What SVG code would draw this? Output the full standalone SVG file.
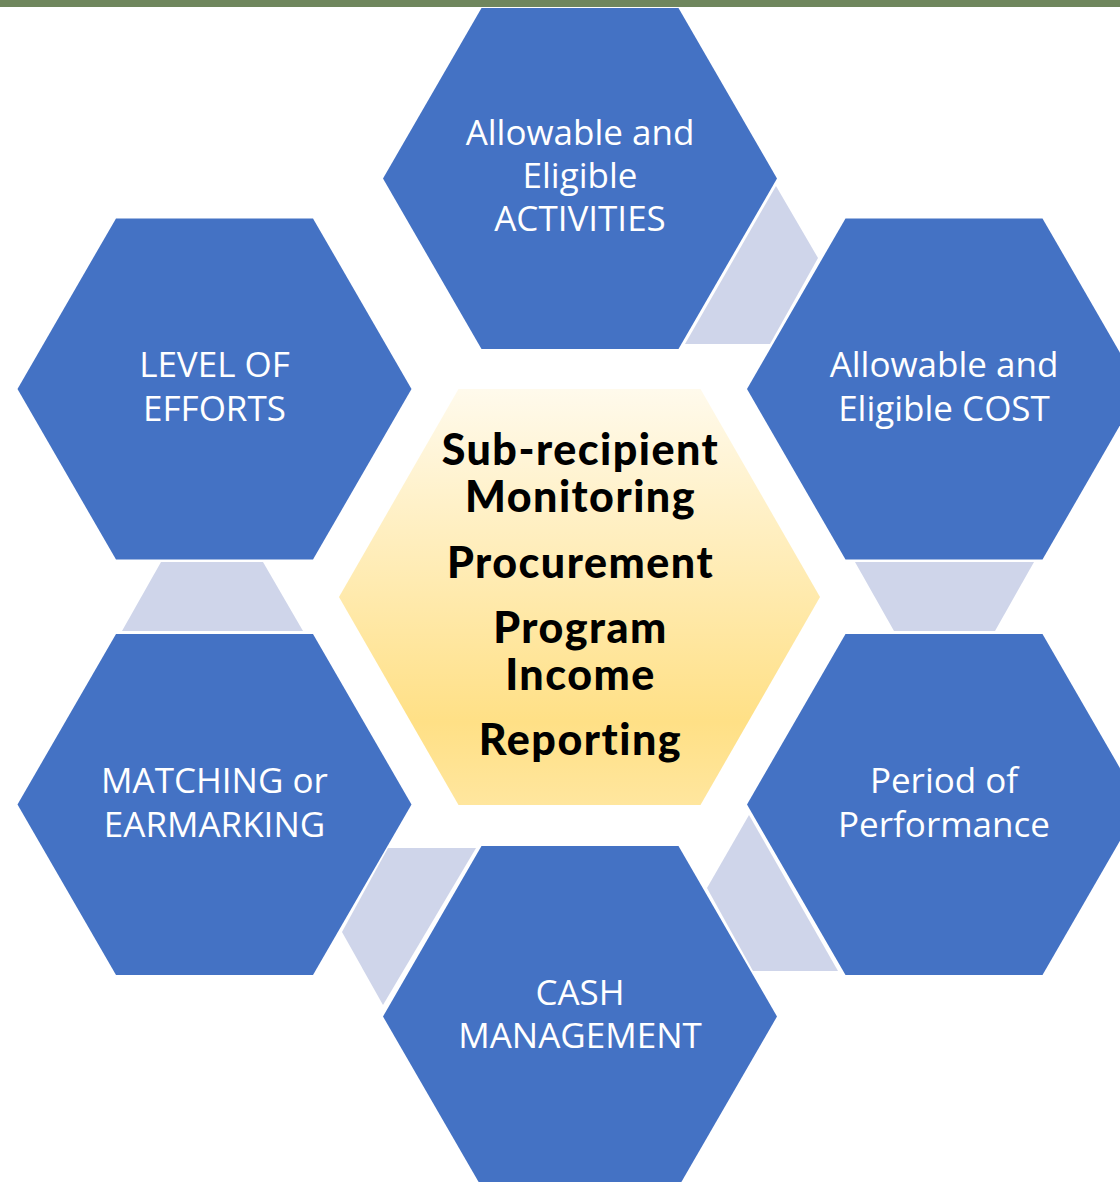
<svg xmlns="http://www.w3.org/2000/svg" width="1120" height="1182" viewBox="0 0 1120 1182">
  <defs>
    <linearGradient id="gold" x1="0" y1="0" x2="0" y2="1">
      <stop offset="0" stop-color="#FFFAEC"/>
      <stop offset="0.8" stop-color="#FFE086"/>
      <stop offset="1" stop-color="#FFE69E"/>
    </linearGradient>
    <style>
      .hex { fill: #4472C4; }
      .con { fill: #CFD5EA; }
      .lbl { fill: #FFFFFF; font-family: "Open Sans", "Liberation Sans", sans-serif; font-size: 35px; text-anchor: middle; }
      .ctr { fill: #000000; font-family: Lato, "Liberation Sans", sans-serif; font-weight: 900; font-size: 43px; letter-spacing: 1.5px; text-anchor: middle; }
    </style>
  </defs>
  <rect x="0" y="0" width="1120" height="1182" fill="#FFFFFF"/>
  <rect x="0" y="0" width="1120" height="7" fill="#6F865D"/>

  <g id="connectors">
    <polygon class="con" points="776,186 818,258 770,344 685,344"/>
    <polygon class="con" points="161,562 263,562 303,631 122,631"/>
    <polygon class="con" points="855,562 1034,562 995,631 894,631"/>
    <polygon class="con" points="388,848 476,848 383,1005 342,932"/>
    <polygon class="con" points="749,815 838,971 753,971 707,888"/>
  </g>

  <g id="node-activities">
    <polygon class="hex" points="481.5,8 678.5,8 777,178.5 678.5,349 481.5,349 383,178.5"/>
    <text class="lbl" x="580" y="145">Allowable and</text>
    <text class="lbl" x="580" y="188">Eligible</text>
    <text class="lbl" x="580" y="231">ACTIVITIES</text>
  </g>

  <g id="node-cost">
    <polygon class="hex" points="845.5,218.4 1042.5,218.4 1141,389 1042.5,559.6 845.5,559.6 747,389"/>
    <text class="lbl" x="944" y="377">Allowable and</text>
    <text class="lbl" x="944" y="421">Eligible COST</text>
  </g>

  <g id="node-effort">
    <polygon class="hex" points="116,218.4 313,218.4 411.5,389 313,559.6 116,559.6 17.5,389"/>
    <text class="lbl" x="214.5" y="377">LEVEL OF</text>
    <text class="lbl" x="214.5" y="421">EFFORTS</text>
  </g>

  <g id="node-matching">
    <polygon class="hex" points="116,634 313,634 411.5,804.5 313,975 116,975 17.5,804.5"/>
    <text class="lbl" x="214.5" y="793">MATCHING or</text>
    <text class="lbl" x="214.5" y="837">EARMARKING</text>
  </g>

  <g id="node-period">
    <polygon class="hex" points="845.5,634 1042.5,634 1141,804.5 1042.5,975 845.5,975 747,804.5"/>
    <text class="lbl" x="944" y="793">Period of</text>
    <text class="lbl" x="944" y="837">Performance</text>
  </g>

  <g id="node-cash">
    <polygon class="hex" points="481.5,846 678.5,846 777,1016.5 678.5,1187 481.5,1187 383,1016.5"/>
    <text class="lbl" x="580" y="1005">CASH</text>
    <text class="lbl" x="580" y="1048">MANAGEMENT</text>
  </g>

  <g id="node-center">
    <polygon fill="url(#gold)" points="458.5,389 700.5,389 820,597 700.5,805 458.5,805 339,597"/>
    <text class="ctr" x="580.5" y="465">Sub-recipient</text>
    <text class="ctr" x="580.5" y="512">Monitoring</text>
    <text class="ctr" x="580.5" y="578">Procurement</text>
    <text class="ctr" x="580.5" y="643">Program</text>
    <text class="ctr" x="580.5" y="690">Income</text>
    <text class="ctr" x="580.5" y="755">Reporting</text>
  </g>
</svg>
